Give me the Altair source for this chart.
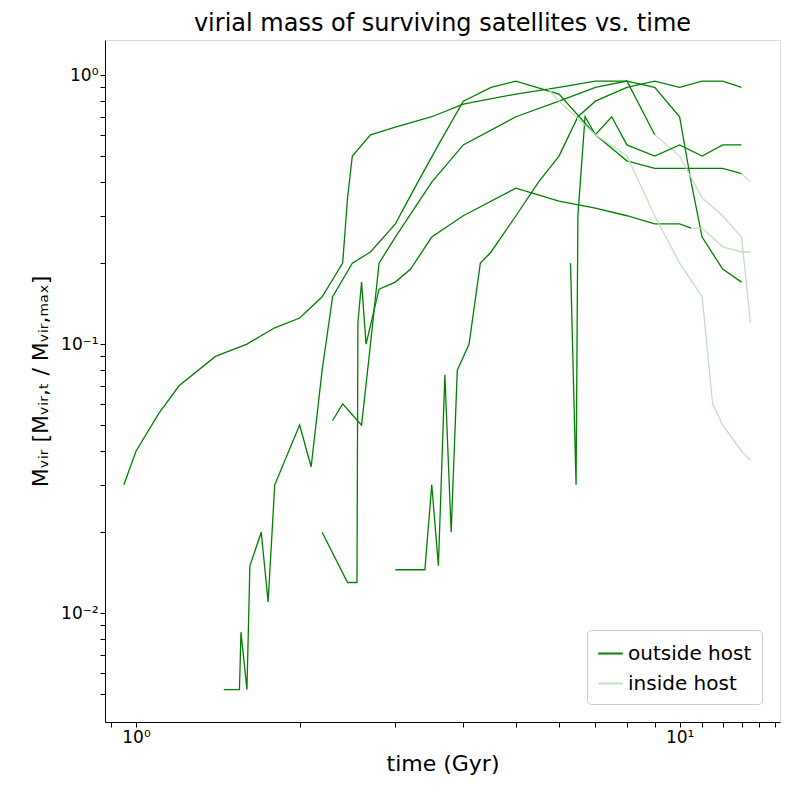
import altair as alt
import pandas as pd

# each satellite: list of (time Gyr, Mvir/Mvir,max); index where it enters host
sat_times = [
    [0.95, 1.0, 1.1, 1.2, 1.4, 1.6, 1.8, 2.0, 2.2, 2.4, 2.45, 2.5, 2.7, 3.0, 3.5, 4.0, 5.0, 6.0, 7.0, 8.0, 9.0, 10.0, 10.5, 11.0, 12.0, 13.0],
    [1.45, 1.55, 1.56, 1.6, 1.62, 1.7, 1.75, 1.8, 2.0, 2.1, 2.2, 2.3, 2.5, 2.7, 3.0, 3.3, 3.6, 4.0, 4.5, 5.0, 6.0, 7.0, 8.0, 9.0, 10.0, 12.0, 13.0, 13.5],
    [2.3, 2.4, 2.6, 2.7, 2.8, 3.0, 3.5, 4.0, 5.0, 6.0, 7.0, 8.0, 9.0, 10.0, 11.0, 12.0, 13.0, 13.5],
    [2.2, 2.45, 2.55, 2.56, 2.6, 2.65, 2.8, 3.0, 3.2, 3.5, 4.0, 5.0, 6.0, 7.0, 8.0, 9.0, 10.0, 10.5, 11.0, 12.0, 13.0, 13.5],
    [3.0, 3.4, 3.5, 3.6, 3.7, 3.8, 3.9, 4.1, 4.3, 4.5, 5.0, 5.5, 6.0, 6.5, 7.0, 8.0, 9.0, 10.0, 11.0, 12.0, 13.0],
    [6.3, 6.45, 6.5, 6.7, 7.0, 7.5, 8.0, 9.0, 10.0, 11.0, 12.0, 13.0],
    [5.7, 6.0, 7.0, 8.0, 9.0, 10.0, 11.0, 11.5, 12.0, 13.0, 13.5],
]
sat_mass = [
    [0.03, 0.04, 0.055, 0.07, 0.09, 0.10, 0.115, 0.125, 0.15, 0.2, 0.35, 0.5, 0.6, 0.64, 0.7, 0.78, 0.85, 0.9, 0.95, 0.95, 0.9, 0.7, 0.4, 0.25, 0.19, 0.17],
    [0.0052, 0.0052, 0.0085, 0.0052, 0.015, 0.02, 0.011, 0.03, 0.05, 0.035, 0.08, 0.15, 0.2, 0.22, 0.28, 0.4, 0.55, 0.8, 0.9, 0.95, 0.85, 0.6, 0.48, 0.45, 0.45, 0.45, 0.43, 0.4],
    [0.052, 0.06, 0.05, 0.1, 0.2, 0.25, 0.4, 0.55, 0.7, 0.8, 0.9, 0.95, 0.6, 0.5, 0.35, 0.3, 0.25, 0.12],
    [0.02, 0.013, 0.013, 0.12, 0.17, 0.1, 0.16, 0.17, 0.19, 0.25, 0.3, 0.38, 0.34, 0.32, 0.3, 0.28, 0.28, 0.27, 0.27, 0.23, 0.22, 0.22],
    [0.0145, 0.0145, 0.03, 0.015, 0.077, 0.02, 0.08, 0.1, 0.2, 0.22, 0.3, 0.4, 0.5, 0.7, 0.8, 0.9, 0.95, 0.9, 0.95, 0.95, 0.9],
    [0.2, 0.03, 0.3, 0.7, 0.6, 0.7, 0.55, 0.5, 0.55, 0.5, 0.55, 0.55],
    [0.9, 0.8, 0.6, 0.5, 0.3, 0.2, 0.15, 0.06, 0.05, 0.04, 0.037],
]
enter_idx = [25, 26, 12, 17, 21, 12, 0]

rows = []
for i, (ts, ms) in enumerate(zip(sat_times, sat_mass)):
    k = enter_idx[i]
    for j, (t, m) in enumerate(zip(ts, ms)):
        if j <= k:
            rows.append(dict(sat=i, seg=f"{i}o", state="outside host", t=t, m=m, order=j))
        if j >= k:
            rows.append(dict(sat=i, seg=f"{i}i", state="inside host", t=t, m=m, order=j))
df = pd.DataFrame(rows)

x_ticks = [0.9, 1, 2, 3, 4, 5, 6, 7, 8, 9, 10, 11, 12, 13, 14, 15]
y_ticks = [0.005, 0.006, 0.007, 0.008, 0.009, 0.01, 0.02, 0.03, 0.04, 0.05, 0.06, 0.07, 0.08, 0.09,
           0.1, 0.2, 0.3, 0.4, 0.5, 0.6, 0.7, 0.8, 0.9, 1.0]

chart = alt.Chart(df).mark_line(strokeWidth=1.3).encode(
    x=alt.X("t:Q", title="time (Gyr)",
            scale=alt.Scale(type="log", domain=[0.877, 15.3], nice=False),
            axis=alt.Axis(values=x_ticks, grid=False,
                          labelExpr="datum.value == 1 ? '10⁰' : datum.value == 10 ? '10¹' : ''",
                          labelFontSize=17, titleFontSize=22, titleFontWeight="normal", titlePadding=8,
                          tickColor="black", domainColor="black", labelColor="black")),
    y=alt.Y("m:Q", title="Mᵥᵢᵣ [Mᵥᵢᵣ,ₜ / Mᵥᵢᵣ,ₘₐₓ]",
            scale=alt.Scale(type="log", domain=[0.00394, 1.35], nice=False),
            axis=alt.Axis(values=y_ticks, grid=False,
                          labelExpr="datum.value == 1 ? '10⁰' : datum.value == 0.1 ? '10⁻¹' : datum.value == 0.01 ? '10⁻²' : ''",
                          labelFontSize=17, titleFontSize=22, titleFontWeight="normal", titlePadding=8,
                          tickColor="black", domainColor="black", labelColor="black")),
    color=alt.Color("state:N", title=None,
                    scale=alt.Scale(domain=["outside host", "inside host"], range=["#008000", "#bfe0bf"]),
                    legend=alt.Legend(orient="bottom-right", labelFontSize=20, symbolType="stroke",
                                      symbolStrokeWidth=2, symbolSize=600, strokeColor="#cccccc",
                                      fillColor="white", padding=10, cornerRadius=4, rowPadding=6)),
    detail="seg:N",
    order="order:Q",
).properties(
    width=675, height=682,
    title=alt.Title("virial mass of surviving satellites vs. time", fontSize=24, fontWeight="normal"),
    padding={"left": 97, "top": 32, "right": 10, "bottom": 60},
    autosize=alt.AutoSizeParams(type="none"),
).configure_view(stroke="black").configure(font="DejaVu Sans")

chart.save("out.html", embed_options={"renderer": "svg", "actions": False})
